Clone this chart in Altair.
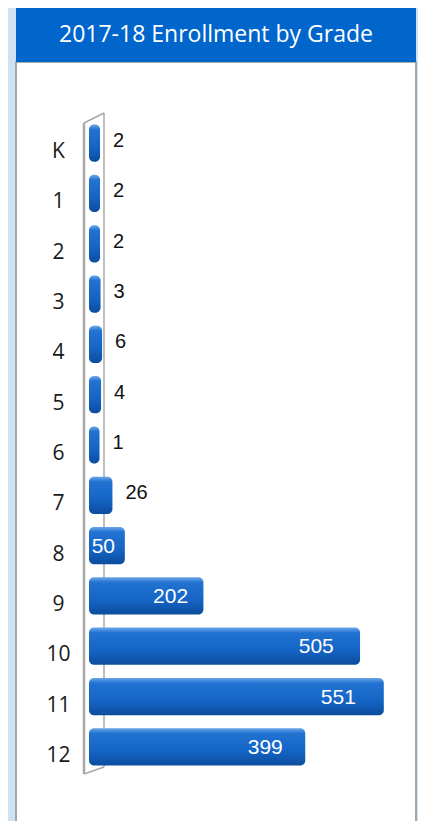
import altair as alt
import pandas as pd

grades = ["K", "1", "2", "3", "4", "5", "6", "7", "8", "9", "10", "11", "12"]
enrollment = [2, 2, 2, 3, 6, 4, 1, 26, 50, 202, 505, 551, 399]
title_text = "2017-18 Enrollment by Grade"

df = pd.DataFrame({"grade": grades, "v": enrollment})
one = pd.DataFrame({"k": [0]})

W, H = 306, 654

y_enc = alt.Y(
    "grade:N", sort=grades,
    scale=alt.Scale(paddingInner=0.26, paddingOuter=0.13),
    axis=alt.Axis(title=None, domain=False, ticks=False, tickSize=0, zindex=2,
                  labelAlign="center", labelPadding=41, labelOffset=9,
                  labelFont="Open Sans", labelFontSize=21, labelColor="#1a1a1a"),
)
x_scale = alt.Scale(domain=[0, 592], nice=False, zero=True)

panel = alt.Chart(one).mark_rect(fill="white", stroke="#a8a8a8", strokeWidth=2).encode(
    x=alt.value(-83), x2=alt.value(317), y=alt.value(-56), y2=alt.value(760)
)
header = alt.Chart(one).mark_rect(fill="#0066cc").encode(
    x=alt.value(-83), x2=alt.value(317), y=alt.value(-112), y2=alt.value(-56)
)
title = alt.Chart(one).mark_text(
    text=title_text, font="Open Sans", fontWeight=400, fontSize=23,
    color="white", align="center", baseline="middle"
).encode(x=alt.value(117), y=alt.value(-83))

wall_color = "#a9a9a9"
wall_left = alt.Chart(one).mark_rule(color=wall_color, strokeWidth=2.5).encode(
    x=alt.value(-15), y=alt.value(5), y2=alt.value(656)
)
wall_right = alt.Chart(one).mark_rule(color=wall_color, strokeWidth=1.5).encode(
    x=alt.value(5), y=alt.value(-5), y2=alt.value(649)
)
wall_top = alt.Chart(one).mark_rule(color=wall_color, strokeWidth=1.5).encode(
    x=alt.value(-15), y=alt.value(5), x2=alt.value(5), y2=alt.value(-5)
)
wall_bottom = alt.Chart(one).mark_rule(color=wall_color, strokeWidth=1.5).encode(
    x=alt.value(-15), y=alt.value(656), x2=alt.value(5), y2=alt.value(649)
)

grad = alt.LinearGradient(
    gradient="linear", x1=0, x2=0, y1=0, y2=1,
    stops=[
        alt.GradientStop(color="#6aa6e8", offset=0),
        alt.GradientStop(color="#2272d2", offset=0.14),
        alt.GradientStop(color="#1565c6", offset=0.6),
        alt.GradientStop(color="#0c4c9e", offset=1),
    ],
)

bars = alt.Chart(df).mark_bar(color=grad, cornerRadius=5, x2Offset=-10).encode(
    y=y_enc,
    x=alt.X("v:Q", scale=x_scale, axis=None),
    x2=alt.datum(0),
)

out_labels = alt.Chart(df).transform_filter("datum.v < 40").mark_text(
    font="Liberation Sans", fontSize=20, color="#111111", align="left",
    baseline="middle", dx=13, dy=-2
).encode(
    y=alt.Y("grade:N", sort=grades),
    x=alt.X("v:Q", scale=x_scale),
    text="v:Q",
)

in_labels = alt.Chart(df).transform_filter("datum.v >= 40").transform_calculate(
    lx="datum.v * 0.93"
).mark_text(
    font="Liberation Sans", fontSize=21, color="white", align="right",
    baseline="middle", dx=-8, dy=1
).encode(
    y=alt.Y("grade:N", sort=grades),
    x=alt.X("lx:Q", scale=x_scale),
    text="v:Q",
)

chart = alt.layer(
    panel, header, title, wall_left, wall_right, wall_top, wall_bottom,
    bars, out_labels, in_labels
).properties(
    width=W, height=H,
    autosize=alt.AutoSizeParams(type="none"),
    padding={"left": 91, "top": 110, "right": 13, "bottom": 49},
    background="#cfe2f3",
).configure_view(stroke=None, fill=None)

chart.save("out.html", embed_options={"renderer": "svg", "actions": False})
